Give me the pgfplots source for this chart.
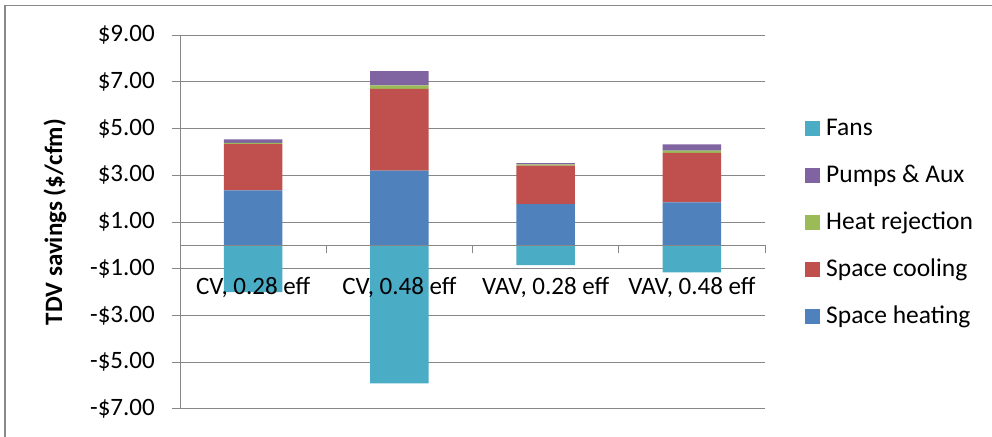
\documentclass[border=0pt]{standalone}
\usepackage{pgfplots}
\pgfplotsset{compat=1.18}
\usepackage{fontspec}
\setmainfont{Carlito}
\definecolor{cHeat}{HTML}{4F81BD}
\definecolor{cCool}{HTML}{C0504D}
\definecolor{cRej}{HTML}{9BBB59}
\definecolor{cPump}{HTML}{8064A2}
\definecolor{cFans}{HTML}{4BACC6}
\definecolor{gridc}{HTML}{878787}
\definecolor{borderc}{HTML}{898989}
\newcommand{\cfont}{\fontsize{25bp}{30bp}\selectfont}
\newcommand{\lfont}{\fontsize{25.5bp}{30bp}\selectfont}
\pgfplotsset{
  /pgfplots/ybar legend/.style={/pgfplots/legend image code/.code={\fill[##1] (0bp,-7.5bp) rectangle (15bp,7.5bp);}},
  common/.style={
    at={(180bp,28bp)}, anchor=south west, scale only axis,
    width=585bp, height=374bp,
    xmin=-0.5, xmax=3.5, ymin=-7, ymax=9,
  }
}
\begin{document}
\begin{tikzpicture}
\useasboundingbox (0,0) rectangle (992bp,437bp);
\fill[white] (0,0) rectangle (992bp,437bp);
\draw[borderc, line width=1.5bp] (5bp,0) -- (5bp,431.5bp) -- (992bp,431.5bp);
\begin{axis}[
  common,
  axis x line=none, axis y line*=left,
  y axis line style={draw=gridc, line width=1bp, -},
  xtick=\empty,
  ytick={-7,-5,-3,-1,1,3,5,7,9},
  yticklabels={-\$7.00,-\$5.00,-\$3.00,-\$1.00,\$1.00,\$3.00,\$5.00,\$7.00,\$9.00},
  ytick align=outside, major tick length=8bp,
  y tick style={draw=gridc, line width=1bp},
  ymajorgrids, major grid style={draw=gridc, line width=1bp},
  yticklabel style={font=\cfont, inner sep=0pt, xshift=-17bp},
  ylabel={TDV savings (\$/cfm)},
  every axis y label/.style={at={(axis description cs:-0.2137,0.5)}, rotate=90, anchor=center, font=\cfont\bfseries},
]
\addplot[ybar, bar width=0.4, bar shift=0pt, fill=cFans, draw=none] coordinates {(0,-2.0) (1,-5.9) (2,-0.84) (3,-1.15)};
\end{axis}
\begin{axis}[
  common,
  axis y line=none, axis x line*=middle,
  x axis line style={draw=gridc, line width=1bp, -},
  ytick=\empty,
  xtick={-0.5,0.5,1.5,2.5,3.5}, xticklabels={},
  xtick align=outside, major tick length=8bp,
  x tick style={draw=gridc, line width=1bp},
  extra x ticks={0,1,2,3},
  extra x tick labels={{CV, 0.28 eff},{CV, 0.48 eff},{VAV, 0.28 eff},{VAV, 0.48 eff}},
  extra x tick style={major tick length=0pt},
  xticklabel style={font=\cfont, inner sep=0pt, anchor=north, yshift=-32bp},
  hide obscured x ticks=false,
  axis on top,
  ybar stacked, bar width=0.4,
  legend style={at={(1,0.5)}, anchor=west, xshift=40bp, draw=none, fill=none,
    inner sep=0pt, row sep=26bp, column sep=6bp, font=\lfont,
    nodes={inner sep=0pt, text height=18bp, text depth=3bp}},
  legend cell align=left,
]
\addplot[fill=cHeat, draw=none, forget plot] coordinates {(0,2.35) (1,3.20) (2,1.76) (3,1.84)};
\addplot[fill=cCool, draw=none, forget plot] coordinates {(0,1.98) (1,3.50) (2,1.65) (3,2.12)};
\addplot[fill=cRej, draw=none, forget plot] coordinates {(0,0.06) (1,0.15) (2,0.06) (3,0.09)};
\addplot[fill=cPump, draw=none, forget plot] coordinates {(0,0.15) (1,0.60) (2,0.05) (3,0.27)};
\addlegendimage{ybar legend, fill=cFans, draw=none}
\addlegendentry{Fans}
\addlegendimage{ybar legend, fill=cPump, draw=none}
\addlegendentry{Pumps \& Aux}
\addlegendimage{ybar legend, fill=cRej, draw=none}
\addlegendentry{Heat rejection}
\addlegendimage{ybar legend, fill=cCool, draw=none}
\addlegendentry{Space cooling}
\addlegendimage{ybar legend, fill=cHeat, draw=none}
\addlegendentry{Space heating}
\end{axis}
\end{tikzpicture}
\end{document}
